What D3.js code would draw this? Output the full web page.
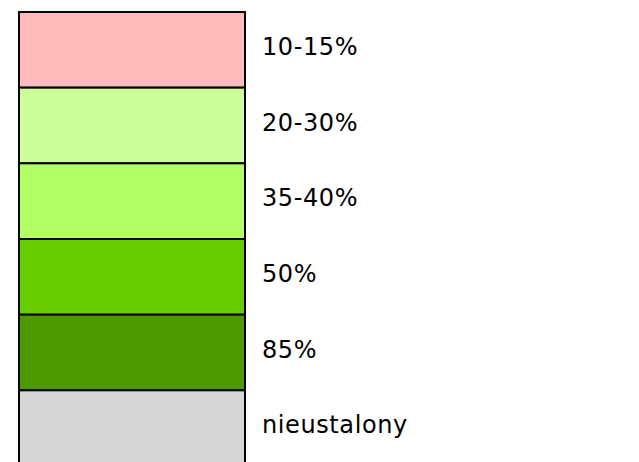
<!DOCTYPE html>
<html>
<head>
<meta charset="utf-8">
<script src="https://cdn.jsdelivr.net/npm/d3@7"></script>
<style>
  body { margin: 0; background: #fff; }
  text { font-family: "DejaVu Sans", Verdana, sans-serif; }
</style>
</head>
<body>
<div id="chart"></div>
<script>
// legend entries
var labels = ["10-15%", "20-30%", "35-40%", "50%", "85%", "nieustalony"],
colors = ["#ffbbbb", "#ccff99", "#b3ff66", "#66cc00", "#4c9900", "#d6d6d6"];

var width = 639, height = 462;

var svg = d3.select("#chart").append("svg")
  .attr("width", width)
  .attr("height", height);

// rows run past the bottom edge, like the original
var y = d3.scaleBand()
  .domain(labels)
  .range([12, 466])
  .paddingInner(0);

var rows = svg.selectAll("g.row")
  .data(labels)
  .enter().append("g")
  .attr("class", "row");

rows.append("rect")
  .attr("x", 19)
  .attr("y", function(d){ return y(d); })
  .attr("width", 226)
  .attr("height", y.bandwidth())
  .attr("fill", function(d, i){ return colors[i]; })
  .attr("stroke", "#000")
  .attr("stroke-width", 2);

rows.append("text")
  .attr("x", 262)
  .attr("y", function(d){ return y(d) + y.bandwidth() / 2 + 5; })
  .attr("font-size", 24)
  .attr("letter-spacing", 0.6)
  .attr("fill", "#000")
  .text(function(d){ return d; });
</script>
</body>
</html>
